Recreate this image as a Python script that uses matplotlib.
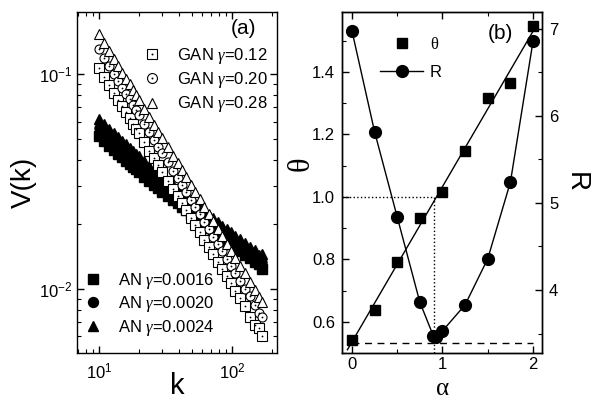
import matplotlib
matplotlib.use('Agg')
import matplotlib.pyplot as plt
import numpy as np
from matplotlib.ticker import NullFormatter, MultipleLocator

plt.rcParams['font.family'] = ['Liberation Sans', 'DejaVu Sans']
plt.rcParams['mathtext.fontset'] = 'custom'
plt.rcParams['mathtext.rm'] = 'Liberation Serif'
plt.rcParams['mathtext.it'] = 'Liberation Serif:italic'
plt.rcParams['axes.linewidth'] = 1.0

# ---- panel (a) data: degree k and V(k) ----
k = [10, 11, 12, 13, 14, 15, 16, 17, 18, 19, 20, 22, 24, 26, 28, 30, 33, 36, 39,
     42, 45, 49, 53, 57, 62, 67, 72, 78, 84, 91, 98, 106, 115, 125, 136, 148, 160, 168]

gan_012 = [0.1067, 0.0969, 0.0888, 0.0819, 0.0760, 0.0708, 0.0664, 0.0624, 0.0589,
           0.0558, 0.0530, 0.0481, 0.0441, 0.0406, 0.0377, 0.0352, 0.0319, 0.0292,
           0.0270, 0.0250, 0.0233, 0.0214, 0.0198, 0.0184, 0.0169, 0.0156, 0.0145,
           0.0134, 0.0124, 0.0115, 0.0106, 0.0098, 0.0091, 0.0083, 0.0074, 0.0068,
           0.0066, 0.0060]
gan_020 = [0.1309, 0.1188, 0.1087, 0.1002, 0.0929, 0.0866, 0.0811, 0.0763, 0.0719,
           0.0681, 0.0647, 0.0587, 0.0537, 0.0495, 0.0459, 0.0428, 0.0388, 0.0355,
           0.0328, 0.0304, 0.0283, 0.0260, 0.0240, 0.0223, 0.0204, 0.0189, 0.0175,
           0.0162, 0.0150, 0.0138, 0.0128, 0.0118, 0.0109, 0.0100, 0.0093, 0.0084,
           0.0077, 0.0074]
gan_028 = [0.1538, 0.1396, 0.1277, 0.1177, 0.1092, 0.1018, 0.0953, 0.0897, 0.0845,
           0.0800, 0.0760, 0.0690, 0.0631, 0.0582, 0.0539, 0.0503, 0.0456, 0.0417,
           0.0385, 0.0357, 0.0333, 0.0306, 0.0282, 0.0262, 0.0240, 0.0222, 0.0206,
           0.0190, 0.0176, 0.0162, 0.0150, 0.0139, 0.0128, 0.0118, 0.0108, 0.0099,
           0.0092, 0.0087]
an_0016 = [0.0513, 0.0487, 0.0463, 0.0444, 0.0426, 0.0411, 0.0396, 0.0383, 0.0371,
           0.0361, 0.0350, 0.0332, 0.0317, 0.0305, 0.0294, 0.0284, 0.0271, 0.0260,
           0.0250, 0.0241, 0.0234, 0.0224, 0.0216, 0.0208, 0.0200, 0.0193, 0.0186,
           0.0179, 0.0173, 0.0167, 0.0161, 0.0155, 0.0150, 0.0144, 0.0139, 0.0134,
           0.0131, 0.0124]
an_0020 = [0.0563, 0.0533, 0.0507, 0.0485, 0.0465, 0.0448, 0.0432, 0.0418, 0.0404,
           0.0392, 0.0381, 0.0361, 0.0344, 0.0330, 0.0319, 0.0308, 0.0294, 0.0281,
           0.0270, 0.0260, 0.0252, 0.0241, 0.0232, 0.0224, 0.0215, 0.0207, 0.0199,
           0.0191, 0.0185, 0.0178, 0.0172, 0.0166, 0.0160, 0.0154, 0.0147, 0.0142,
           0.0137, 0.0133]
an_0024 = [0.0617, 0.0584, 0.0555, 0.0530, 0.0508, 0.0489, 0.0471, 0.0455, 0.0440,
           0.0427, 0.0414, 0.0392, 0.0373, 0.0358, 0.0345, 0.0333, 0.0317, 0.0303,
           0.0291, 0.0280, 0.0271, 0.0259, 0.0249, 0.0240, 0.0230, 0.0221, 0.0213,
           0.0204, 0.0197, 0.0190, 0.0183, 0.0176, 0.0170, 0.0163, 0.0156, 0.0152,
           0.0143, 0.0146]

# ---- panel (b) data ----
alpha_theta = [0.0, 0.25, 0.5, 0.75, 1.0, 1.25, 1.5, 1.75, 2.0]
theta = [0.542, 0.638, 0.792, 0.933, 1.016, 1.146, 1.317, 1.365, 1.547]
alpha_r = [0.0, 0.25, 0.5, 0.75, 0.9, 0.93, 1.0, 1.25, 1.5, 1.75, 2.0]
R = [6.98, 5.82, 4.84, 3.86, 3.47, 3.46, 3.53, 3.83, 4.36, 5.24, 6.86]
alpha_c = 0.91   # crossing point where theta = 1
r_min_level = 3.39

fig = plt.figure(figsize=(6.01, 4.0), dpi=100)
ax1 = fig.add_axes([0.128, 0.1175, 0.333, 0.8525])
ax2 = fig.add_axes([0.569, 0.1175, 0.333, 0.8525])

# ---------------- panel (a) ----------------
ms = 6.5
open_kw = dict(ls='none', mfc='white', mec='black', mew=0.8, ms=ms)
dot_kw = dict(ls='none', marker='o', ms=1.3, mfc='black', mec='black', mew=0)

an_sq, = ax1.plot(k, an_0016, 's', ls='none', color='black', ms=ms)
an_ci, = ax1.plot(k, an_0020, 'o', ls='none', color='black', ms=ms)
an_tr, = ax1.plot(k, an_0024, '^', ls='none', color='black', ms=ms)

g1, = ax1.plot(k, gan_012, marker='s', **open_kw)
g1d, = ax1.plot(k, gan_012, **dot_kw)
g2, = ax1.plot(k, gan_020, marker='o', **open_kw)
g2d, = ax1.plot(k, gan_020, **dot_kw)
g3, = ax1.plot(k, gan_028, marker='^', **open_kw)

ax1.set_xscale('log')
ax1.set_yscale('log')
ax1.set_xlim(6.84, 218)
ax1.set_ylim(0.00502, 0.195)
ax1.xaxis.set_minor_formatter(NullFormatter())
ax1.yaxis.set_minor_formatter(NullFormatter())
ax1.tick_params(which='both', direction='in', top=True, right=True, labelsize=12)
ax1.tick_params(which='major', length=5, width=1)
ax1.tick_params(which='minor', length=3, width=0.8)
ax1.tick_params(axis='x', pad=6)
ax1.tick_params(axis='y', pad=3)
ax1.set_xlabel(r'$\mathdefault{k}$', fontsize=21)
ax1.xaxis.set_label_coords(0.5, -0.056)
ax1.set_ylabel('V(k)', fontsize=20, labelpad=2)
ax1.text(0.83, 0.953, '(a)', transform=ax1.transAxes, fontsize=15,
         ha='center', va='center')

leg_top = ax1.legend([(g1, g1d), (g2, g2d), g3],
                     [r'GAN $\gamma$=0.12', r'GAN $\gamma$=0.20', r'GAN $\gamma$=0.28'],
                     loc='upper left', bbox_to_anchor=(0.333, 0.900), frameon=False,
                     fontsize=12, handlelength=1.0, handletextpad=1.0,
                     labelspacing=0.25, borderpad=0, borderaxespad=0, markerscale=1.1)
ax1.add_artist(leg_top)
ax1.legend([an_sq, an_ci, an_tr],
           [r'AN $\gamma$=0.0016', r'AN $\gamma$=0.0020', r'AN $\gamma$=0.0024'],
           loc='lower left', bbox_to_anchor=(0.0385, 0.045), frameon=False,
           fontsize=12, handlelength=1.0, handletextpad=1.0,
           labelspacing=0.2, borderpad=0, borderaxespad=0, markerscale=1.1)

# ---------------- panel (b) ----------------
fit = np.polyfit(alpha_theta, theta, 1)
a_line = np.array([-0.05, 2.05])
ax2.plot(a_line, np.polyval(fit, a_line), color='black', lw=1.0)
sq, = ax2.plot(alpha_theta, theta, 's', ls='none', color='black', ms=7)

ax2.plot([-0.11, alpha_c], [1.0, 1.0], ls=':', color='black', lw=1.0)
ax2.plot([alpha_c, alpha_c], [1.0, 0.50], ls=':', color='black', lw=1.0)

ax2.set_xlim(-0.11, 2.1)
ax2.set_ylim(0.50, 1.592)
ax2.xaxis.set_major_locator(MultipleLocator(1))
ax2.xaxis.set_minor_locator(MultipleLocator(0.5))
ax2.yaxis.set_major_locator(MultipleLocator(0.2))
ax2.yaxis.set_minor_locator(MultipleLocator(0.1))
ax2.tick_params(which='both', direction='in', top=True, labelsize=12)
ax2.tick_params(which='major', length=5, width=1)
ax2.tick_params(which='minor', length=3, width=0.8)
ax2.tick_params(axis='x', pad=3)
ax2.tick_params(axis='y', pad=5)
ax2.set_xlabel(r'$\mathrm{\alpha}$', fontsize=18)
ax2.xaxis.set_label_coords(0.5, -0.067)
ax2.set_ylabel(r'$\mathrm{\theta}$', fontsize=22)
ax2.yaxis.set_label_coords(-0.125, 0.55)

ax3 = ax2.twinx()
ax3.plot([0.0, 2.0], [r_min_level, r_min_level], ls=(0, (5, 4)), color='black', lw=1.0)
ci, = ax3.plot(alpha_r, R, 'o-', color='black', lw=1.0, ms=8.5)
ax3.set_ylim(3.276, 7.195)
ax3.yaxis.set_major_locator(MultipleLocator(1))
ax3.yaxis.set_minor_locator(MultipleLocator(0.5))
ax3.tick_params(which='both', direction='in', labelsize=12, pad=5)
ax3.tick_params(which='major', length=5, width=1)
ax3.tick_params(which='minor', length=3, width=0.8)
ax3.set_ylabel('R', fontsize=20, rotation=270, labelpad=22)

ax3.text(0.79, 0.938, '(b)', transform=ax3.transAxes, fontsize=15,
         ha='center', va='center')
ax3.legend([sq, ci], [r'$\mathrm{\theta}$', 'R'], loc='upper left',
           bbox_to_anchor=(0.19, 0.93), frameon=False, fontsize=12,
           handlelength=2.6, handletextpad=0.4, labelspacing=0.8,
           borderpad=0, borderaxespad=0)

fig.savefig('out.png', dpi=100)
